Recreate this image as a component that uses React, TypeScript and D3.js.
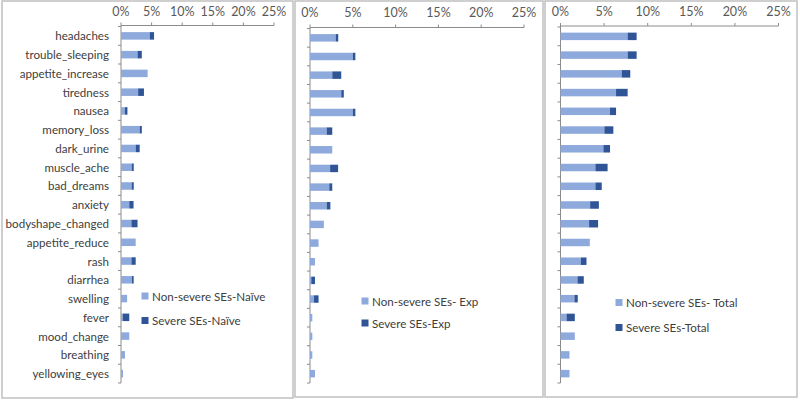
import React from "react";
import * as d3 from "d3";

const categories = [
  "headaches", "trouble_sleeping", "appetite_increase", "tiredness", "nausea",
  "memory_loss", "dark_urine", "muscle_ache", "bad_dreams", "anxiety",
  "bodyshape_changed", "appetite_reduce", "rash", "diarrhea", "swelling",
  "fever", "mood_change", "breathing", "yellowing_eyes",
];

const naiveNonSevere = [4.7, 2.7, 4.35, 2.8, 0.65, 3.05, 2.4, 1.75, 1.75, 1.35, 1.7, 2.4, 1.7, 1.8, 1.0, 0.3, 1.35, 0.65, 0.33];
const naiveSevere = [0.7, 0.7, 0, 0.95, 0.4, 0.35, 0.65, 0.33, 0.33, 0.7, 1.0, 0, 0.7, 0.27, 0, 1.05, 0, 0, 0];

const expNonSevere = [3.0, 5.0, 2.6, 3.65, 5.0, 1.95, 2.6, 2.35, 2.25, 1.95, 1.62, 1.0, 0.58, 0.15, 0.47, 0.27, 0.27, 0.27, 0.58];
const expSevere = [0.3, 0.3, 1.05, 0.3, 0.3, 0.65, 0, 0.93, 0.35, 0.43, 0, 0, 0, 0.43, 0.53, 0, 0, 0, 0];

const totalNonSevere = [7.7, 7.7, 7.02, 6.37, 5.68, 5.03, 4.92, 4.0, 4.0, 3.4, 3.28, 3.36, 2.33, 1.95, 1.6, 0.69, 1.64, 1.03, 1.03];
const totalSevere = [1.03, 1.03, 0.98, 1.33, 0.69, 1.03, 0.76, 1.4, 0.73, 1.0, 1.03, 0, 0.65, 0.72, 0.38, 0.95, 0, 0, 0];

const xTicks = [0, 5, 10, 15, 20, 25];

const legendNames = [
  ["Non-severe SEs-Naïve", "Severe SEs-Naïve"],
  ["Non-severe SEs- Exp", "Severe SEs-Exp"],
  ["Non-severe SEs- Total", "Severe SEs-Total"],
];

const LIGHT = "#8EA9DB";
const DARK = "#2F5597";
const FONT = "Lato, 'Open Sans', sans-serif";

const panels = [
  { bx0: 2, bx1: 293, by1: 398, x0: 121, x1: 274, axisY: 25.5, labelY: 11, legX: 145, legY: [296, 320.5], ns: naiveNonSevere, sv: naiveSevere, showCats: true },
  { bx0: 295, bx1: 543, by1: 397, x0: 310, x1: 524, axisY: 27.5, labelY: 12.5, legX: 365, legY: [301, 323], ns: expNonSevere, sv: expSevere, showCats: false },
  { bx0: 545, bx1: 797, by1: 397, x0: 560.5, x1: 778.5, axisY: 26, labelY: 11, legX: 619, legY: [302.5, 327.5], ns: totalNonSevere, sv: totalSevere, showCats: false },
];

function Panel({ p, idx }: { p: any; idx: number }) {
  const x = d3.scaleLinear().domain([0, 25]).range([p.x0, p.x1]);
  const y = d3.scaleBand<string>().domain(categories).range([p.axisY + 1, 383]).paddingInner(0.6).paddingOuter(0.3);
  const step = y.step();
  const bandTop = p.axisY + 1;
  const axisColor = "#8c8c8c";
  return (
    <g>
      <rect x={p.bx0} y={1} width={p.bx1 - p.bx0} height={p.by1 - 1} fill="#fff" stroke="#c0c0c0" strokeWidth={1.5} />
      <line x1={p.x0} x2={p.x1} y1={p.axisY} y2={p.axisY} stroke={axisColor} strokeWidth={1} />
      {xTicks.map((t) => (
        <g key={t}>
          <line x1={x(t)} x2={x(t)} y1={p.axisY} y2={p.axisY - 3} stroke={axisColor} />
          <text x={x(t)} y={p.labelY} textAnchor="middle" dominantBaseline="central" fontSize={12.5} fill="#595959" fontFamily={FONT}>{t}%</text>
        </g>
      ))}
      <line x1={p.x0} x2={p.x0} y1={p.axisY} y2={383} stroke={axisColor} />
      {categories.map((c, i) => (
        <line key={c} x1={p.x0 - 3} x2={p.x0} y1={bandTop + i * step} y2={bandTop + i * step} stroke={axisColor} />
      ))}
      <line x1={p.x0 - 3} x2={p.x0} y1={383} y2={383} stroke={axisColor} />
      {categories.map((c, i) => {
        const yy = y(c)!;
        const h = y.bandwidth();
        return (
          <g key={c}>
            <rect x={x(0)} y={yy} width={x(p.ns[i]) - x(0)} height={h} fill={LIGHT} />
            {p.sv[i] > 0 && (
              <rect x={x(p.ns[i])} y={yy} width={x(p.ns[i] + p.sv[i]) - x(p.ns[i])} height={h} fill={DARK} />
            )}
            {p.showCats && (
              <text x={p.x0 - 12} y={yy + h / 2} textAnchor="end" dominantBaseline="central" fontSize={11.6} fill="#404040" fontFamily={FONT}>{c}</text>
            )}
          </g>
        );
      })}
      {[LIGHT, DARK].map((col, k) => (
        <g key={k}>
          <rect x={p.legX - 3.5} y={p.legY[k] - 3.5} width={7} height={7} fill={col} />
          <text x={p.legX + 7} y={p.legY[k]} dominantBaseline="central" fontSize={11.6} fill="#404040" fontFamily={FONT}>{legendNames[idx][k]}</text>
        </g>
      ))}
    </g>
  );
}

export default function App() {
  return (
    <svg width={800} height={401} style={{ position: "absolute", left: 0, top: 0, background: "#fff" }}>
      <rect x={0} y={0} width={800} height={401} fill="#fff" />
      {panels.map((p, i) => (
        <Panel key={i} p={p} idx={i} />
      ))}
    </svg>
  );
}
